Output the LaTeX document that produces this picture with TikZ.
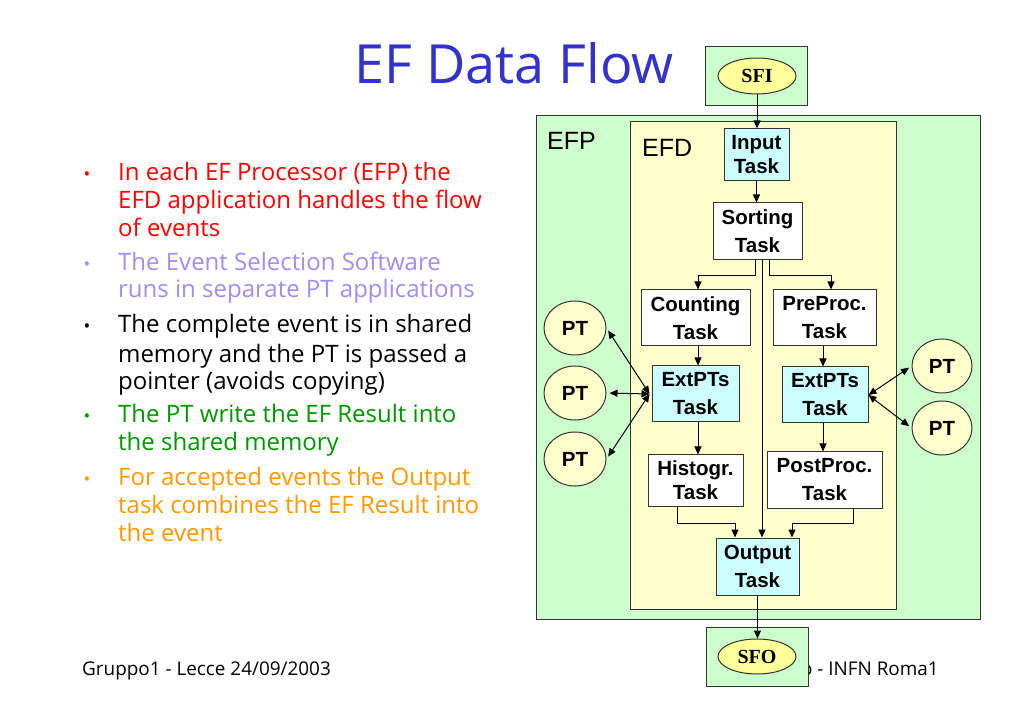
\documentclass[tikz,border=0pt]{standalone}
\usepackage{fontspec}
\usetikzlibrary{arrows.meta,shapes.geometric,calc}
\newfontfamily\arialf{Liberation Sans}
\newfontfamily\comicf{Open Sans}
\newfontfamily\timesf{Liberation Serif}
\definecolor{efpgreen}{RGB}{204,255,204}
\definecolor{efdyellow}{RGB}{255,255,204}
\definecolor{taskcyan}{RGB}{204,255,255}
\definecolor{sfiyellow}{RGB}{255,255,153}
\definecolor{titleblue}{RGB}{51,51,204}
\definecolor{txtred}{RGB}{255,0,0}
\definecolor{txtlav}{RGB}{165,140,240}
\definecolor{txtgreen}{RGB}{0,150,0}
\definecolor{txtorange}{RGB}{255,153,0}
\begin{document}
\begin{tikzpicture}[x=1pt,y=-1pt,
  box/.style={draw=black!80, line width=1pt, inner sep=0pt, align=center},
  task/.style={box, fill=white, font=\arialf\bfseries\fontsize{20.5}{28}\selectfont},
  tasktight/.style={task, font=\arialf\bfseries\fontsize{20.5}{24}\selectfont},
  cyantask/.style={task, fill=taskcyan},
  ptnode/.style={ellipse, draw=black!80, line width=1pt, fill=efdyellow, inner sep=0pt,
    minimum width=62pt, minimum height=54pt, font=\arialf\bfseries\fontsize{20.5}{24}\selectfont},
  sfbox/.style={draw=black!80, line width=1pt, fill=efpgreen, minimum width=102pt, minimum height=59pt, inner sep=0pt},
  sfell/.style={ellipse, draw=black!80, line width=1pt, fill=sfiyellow, minimum width=78pt, minimum height=36pt,
    inner sep=0pt, font=\timesf\bfseries\fontsize{20}{24}\selectfont},
  arr/.style={draw=black, line width=1pt, -{Triangle[length=8pt,width=7pt]}},
  dbl/.style={draw=black, line width=1pt, {Triangle[length=8pt,width=7pt]}-{Triangle[length=8pt,width=7pt]}},
  bodytxt/.style={anchor=base west, inner sep=0pt, font=\comicf\fontsize{24}{27}\selectfont},
  bul/.style={anchor=base, inner sep=0pt, font=\comicf\fontsize{18}{20}\selectfont},
  label/.style={anchor=base west, inner sep=0pt, font=\arialf\fontsize{25}{28}\selectfont}
]
\fill[white] (0,0) rectangle (1023,708);
\useasboundingbox (0,0) rectangle (1023,708);

% title
\node[anchor=base, inner sep=0pt, text=titleblue, font=\comicf\fontsize{54}{60}\selectfont] (title) at (514,84) {EF Data Flow};

% bullets
\node[bul, text=txtred] (b1) at (87,181) {•};
\node[bodytxt, text=txtred] (l1) at (118,181) {In each EF Processor (EFP) the};
\node[bodytxt, text=txtred] (l2) at (118,209) {EFD application handles the flow};
\node[bodytxt, text=txtred] (l3) at (118,237) {of events};
\node[bul, text=txtlav] (b2) at (87,271) {•};
\node[bodytxt, text=txtlav] (l4) at (118,271) {The Event Selection Software};
\node[bodytxt, text=txtlav] (l5) at (118,298) {runs in separate PT applications};
\node[bul, text=black] (b3) at (87,333) {•};
\node[bodytxt, text=black] (l6) at (118,333) {The complete event is in shared};
\node[bodytxt, text=black] (l7) at (118,363) {memory and the PT is passed a};
\node[bodytxt, text=black] (l8) at (118,390) {pointer (avoids copying)};
\node[bul, text=txtgreen] (b4) at (87,423) {•};
\node[bodytxt, text=txtgreen] (l9) at (118,423) {The PT write the EF Result into};
\node[bodytxt, text=txtgreen] (l10) at (118,450) {the shared memory};
\node[bul, text=txtorange] (b5) at (87,485) {•};
\node[bodytxt, text=txtorange] (l11) at (118,485) {For accepted events the Output};
\node[bodytxt, text=txtorange] (l12) at (118,513) {task combines the EF Result into};
\node[bodytxt, text=txtorange] (l13) at (118,541) {the event};

% footers
\node[anchor=base west, inner sep=0pt, font=\comicf\fontsize{18.9}{22}\selectfont] (footL) at (82,675) {Gruppo1 - Lecce 24/09/2003};
\node[anchor=base east, inner sep=0pt, font=\comicf\fontsize{18.9}{22}\selectfont] (footR) at (939,675) {o - INFN Roma1};

% containers
\node[box, fill=efpgreen, minimum width=444pt, minimum height=503pt] (efp) at (758,367.5) {};
\node[label] (efplab) at (547,150) {EFP};
\node[box, fill=efdyellow, minimum width=266pt, minimum height=487pt] (efd) at (763,365.5) {};
\node[label] (efdlab) at (642,157) {EFD};

% tasks
\node[cyantask, tasktight, fill=taskcyan, minimum width=65pt, minimum height=52pt] (input) at (756.5,155) {Input\\Task};
\node[task, minimum width=89pt, minimum height=57pt] (sorting) at (757.5,231.5) {Sorting\\Task};
\node[task, minimum width=109pt, minimum height=56pt] (counting) at (695.5,318) {Counting\\Task};
\node[task, minimum width=103pt, minimum height=56pt] (preproc) at (824.5,318) {PreProc.\\Task};
\node[cyantask, minimum width=87pt, minimum height=56pt] (extL) at (695.5,394) {ExtPTs\\Task};
\node[cyantask, minimum width=86pt, minimum height=56pt] (extR) at (825,395) {ExtPTs\\Task};
\node[tasktight, minimum width=95pt, minimum height=51pt] (histo) at (695.5,480.5) {Histogr.\\Task};
\node[task, minimum width=115pt, minimum height=56pt] (postproc) at (824.5,480) {PostProc.\\Task};
\node[cyantask, minimum width=83pt, minimum height=57pt] (output) at (757.5,566.5) {Output\\Task};

% PT processes
\node[ptnode] (ptL1) at (575,328) {PT};
\node[ptnode] (ptL2) at (575,393) {PT};
\node[ptnode] (ptL3) at (575,459) {PT};
\node[ptnode, minimum width=60pt] (ptR1) at (942,366) {PT};
\node[ptnode, minimum width=60pt] (ptR2) at (942,428) {PT};

% SFI / SFO
\node[sfbox] (sfibox) at (756.5,76.5) {};
\node[sfell] (sfi) at (757,76) {SFI};
\node[sfbox] (sfobox) at (757,656.5) {};
\node[sfell, minimum height=35pt] (sfo) at (757,656.5) {SFO};

% connectors
\draw[arr] (sfi.south) -- (sfi.south |- input.north);
\draw[arr] (input.south) -- (input.south |- sorting.north);
\draw[arr] ([xshift=-2.5pt]sorting.south) -- ++(0,15) -| ([xshift=2.5pt]counting.north);
\draw[arr] ([xshift=11.5pt]sorting.south) -- ++(0,15) -| ([xshift=6.5pt]preproc.north);
\draw[arr] ([xshift=4.5pt]sorting.south) -- ([xshift=4.5pt]sorting.south |- output.north);
\draw[arr] ([xshift=2.5pt]counting.south) -- ([xshift=2.5pt]counting.south |- extL.north);
\draw[arr] ([xshift=-1.5pt]preproc.south) -- ([xshift=-1.5pt]preproc.south |- extR.north);
\draw[arr] ([xshift=2.5pt]extL.south) -- ([xshift=2.5pt]extL.south |- histo.north);
\draw[arr] ([xshift=-2pt]extR.south) -- ([xshift=-2pt]extR.south |- postproc.north);
\draw[arr] ([xshift=-18.5pt]histo.south) -- ++(0,17) -| ([xshift=-22.5pt]output.north);
\draw[arr] ([xshift=28.5pt]postproc.south) -- ++(0,15) -| ([xshift=34.5pt]output.north);
\draw[arr] (output.south) -- (output.south |- sfo.north);

\coordinate (hubL) at ([xshift=-2pt]extL.west);
\draw[dbl, shorten >=3pt] (hubL) -- (ptL1.east);
\draw[dbl, shorten >=3pt] (hubL) -- (ptL2.east);
\draw[dbl, shorten >=3pt] (hubL) -- (ptL3.east);
\draw[dbl, shorten >=3pt] (extR.east) -- (ptR1.west);
\draw[dbl, shorten >=3pt] (extR.east) -- (ptR2.west);
\end{tikzpicture}
\end{document}
